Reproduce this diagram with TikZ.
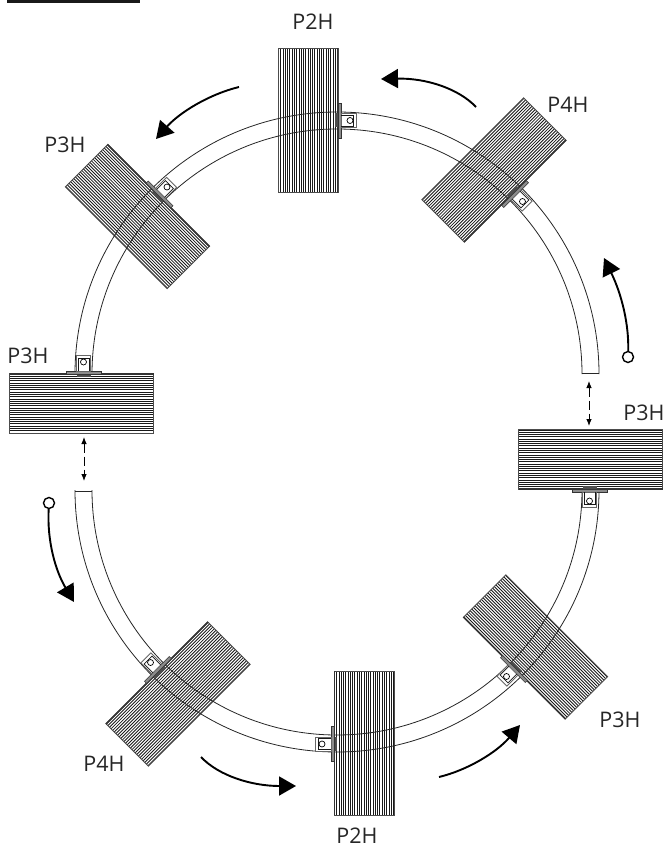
\documentclass[tikz,border=0pt]{standalone}
\usepackage{fontspec}
\setmainfont{Open Sans}
\usetikzlibrary{arrows.meta}
\tikzset{
  trackline/.style={draw=black!85,line width=0.8pt},
  stripe/.style={draw=black!90,line width=0.85pt},
  blockedge/.style={draw=black!70,line width=0.9pt},
  flow/.style={draw=black,line width=1.9pt,-{Triangle[length=17pt,width=19pt]}},
  startdot/.style={draw=black,line width=1.4pt,fill=white,circle,inner sep=0pt,minimum size=11pt},
  gap/.style={draw=black,line width=0.8pt,dash pattern=on 9pt off 4pt,{Latex[length=7pt,width=5.5pt]}-{Latex[length=7pt,width=5.5pt]}},
  lab/.style={text=black!85,font=\fontsize{21.5}{24}\selectfont,inner sep=0pt},
}
\newcommand{\stripeblock}[3]{%
  \begin{scope}[shift={(#1,#2)},rotate=#3]
    \fill[white] (-30,-72) rectangle (30,72);
    \foreach \k in {0,...,26} {\draw[stripe] ({-29.5+\k*2.27},-72) -- ({-29.5+\k*2.27},72);}
    \draw[blockedge] (-30,-72) rectangle (30,72);
    \draw[draw=black!80,line width=1.5pt] (29.6,-72) -- (29.6,72);
  \end{scope}}
\newcommand{\clampunit}[3]{%
  \begin{scope}[shift={(#1,#2)},rotate=#3]
    \fill[black!70] (-3,-7) rectangle (2,7);
    \draw[fill=black!45,draw=black!80,line width=0.6pt] (0,-17.5) rectangle (3,17.5);
    \draw[fill=white,draw=black!60,line width=0.9pt] (3,-7) rectangle (18.5,7);
    \draw[draw=black!90,line width=0.7pt] (3,-5.5) -- (15.5,-5.5) -- (15.5,5.5) -- (3,5.5);
    \draw[draw=black,line width=0.7pt] (12,0) circle (3);
    \fill[white] (12,0) circle (1.2);
  \end{scope}}
\begin{document}
\begin{tikzpicture}[x=1pt,y=-1pt]
\useasboundingbox (0,0) rectangle (668,848);
\fill[black!90] (7,0) rectangle (140,3);
% blocks
\stripeblock{308}{120.5}{0}
\stripeblock{137.5}{216.5}{45}
\stripeblock{81.5}{403.5}{90}
\stripeblock{494}{170}{-45}
\stripeblock{590.5}{459.5}{-90}
\stripeblock{535.5}{647}{-135}
\stripeblock{364}{743}{180}
\stripeblock{178}{694}{135}
% track
\draw[trackline] (599,374) arc[start angle=0,delta angle=-180,radius=262];
\draw[trackline] (582,374) arc[start angle=0,delta angle=-180,radius=245];
\draw[trackline] (582,373) -- (599,373);
\draw[trackline] (75,490) arc[start angle=180,delta angle=-180,radius=262];
\draw[trackline] (92,490) arc[start angle=180,delta angle=-180,radius=245];
\draw[trackline] (75,491) -- (92,491);
% clamps
\clampunit{338}{120.5}{0}
\clampunit{158.5}{195.5}{45}
\clampunit{83.5}{374}{90}
\clampunit{514}{193}{-45}
\clampunit{589.5}{489}{-90}
\clampunit{515}{668}{-135}
\clampunit{334}{744}{180}
\clampunit{159}{671}{135}
% flow arrows
\coordinate (a1) at (476,107); \coordinate (a2) at (381,79);
\draw[flow] (a1) .. controls (458,88) and (425,78) .. (a2);
\coordinate (b1) at (239,87); \coordinate (b2) at (156,139);
\draw[flow] (b1) .. controls (210,94) and (180,112) .. (b2);
\node[startdot] (c0) at (628,357) {};
\coordinate (c2) at (604,258);
\draw[flow] (c0) .. controls (629,325) and (622,295) .. (c2);
\node[startdot] (d0) at (49,503) {};
\coordinate (d2) at (74,602);
\draw[flow] (d0) .. controls (47,540) and (55,570) .. (d2);
\coordinate (e1) at (201,757); \coordinate (e2) at (296,786);
\draw[flow] (e1) .. controls (219,776) and (252,786) .. (e2);
\coordinate (f1) at (439,777); \coordinate (f2) at (520,725);
\draw[flow] (f1) .. controls (468,770) and (497,752) .. (f2);
% gap arrows
\coordinate (g1) at (84,437); \coordinate (g2) at (84,481);
\draw[gap] (g1) -- (g2);
\coordinate (h1) at (589,381); \coordinate (h2) at (589,426);
\draw[gap] (h1) -- (h2);
% labels
\node[lab] (l1) at (313,22) {P2H};
\node[lab] (l2) at (65,145) {P3H};
\node[lab] (l3) at (568,105) {P4H};
\node[lab] (l4) at (28,356) {P3H};
\node[lab] (l5) at (644,413) {P3H};
\node[lab] (l6) at (620,720) {P3H};
\node[lab] (l7) at (104,764) {P4H};
\node[lab] (l8) at (357,836) {P2H};
\end{tikzpicture}
\end{document}
